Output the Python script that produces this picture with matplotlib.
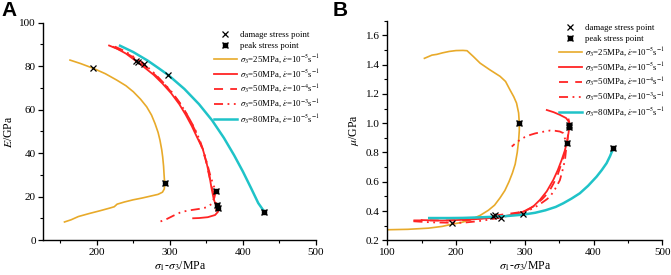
import matplotlib
matplotlib.use("Agg")
import matplotlib.pyplot as plt
from matplotlib.legend_handler import HandlerTuple
from matplotlib.ticker import MultipleLocator

plt.rcParams['font.family'] = ['Liberation Serif', 'DejaVu Serif']
plt.rcParams['mathtext.fontset'] = 'stix'

# ---------------- data (panel A: E vs deviatoric stress) ----------------
a_y25_x = [163.5, 178, 195.4, 212, 227.4, 240, 250.2, 260, 268.4, 275, 279.8, 284, 286.6, 289, 290.3, 291.5, 292.1, 293,
           292.5, 290, 284, 275, 262, 250, 238, 228, 224, 218, 205, 190, 175, 165, 156]
a_y25_y = [82.8, 81.2, 79.0, 76.5, 73.6, 71.0, 68.2, 64.8, 61.3, 57.5, 53.6, 49.5, 45.9, 41.5, 38.2, 34.0, 30.6, 26.1,
           23.5, 22.0, 21.0, 20.3, 19.3, 18.5, 17.5, 16.5, 15.3, 14.7, 13.5, 12.2, 10.8, 9.3, 8.3]

a_r5_x = [217, 228, 240, 254, 265, 278, 290, 302, 313, 322, 330, 337, 345, 350, 354, 357, 360, 363, 366,
          366, 362, 352, 340, 332]
a_r5_y = [89.5, 88.0, 85.8, 82.3, 79.5, 76.0, 72.0, 67.5, 62.5, 57.5, 52.5, 47.5, 42.0, 36.0, 30.0, 24.0, 19.0, 16.0, 14.5,
          13.0, 11.5, 10.5, 10.1, 10.0]

a_r4_x = [222, 235, 248, 257, 270, 283, 296, 308, 319, 328, 336, 343, 349, 353, 357, 361, 364, 364, 360]
a_r4_y = [89.0, 87.0, 84.5, 82.3, 79.0, 75.0, 70.5, 65.5, 60.5, 55.0, 49.5, 43.5, 37.0, 31.0, 25.0, 20.0, 16.0, 14.0, 13.0]

a_r3_x = [225, 238, 252, 265, 278, 291, 303, 314, 324, 333, 341, 347, 352, 356, 360, 363,
          361, 357, 350, 340, 330, 320, 314, 305, 295, 283]
a_r3_y = [89.0, 87.0, 84.0, 81.0, 77.0, 72.5, 68.0, 63.0, 57.5, 52.0, 46.0, 40.0, 34.0, 29.0, 25.0, 22.5,
          19.5, 16.5, 15.0, 14.3, 13.8, 13.2, 12.6, 11.2, 9.5, 8.0]

a_c80_x = [232, 250, 270, 285, 298, 320, 340, 358, 374, 388, 400, 411, 421, 429.5]
a_c80_y = [89.4, 86.5, 82.5, 79.0, 75.9, 69.5, 62.5, 55.0, 47.0, 39.0, 31.5, 24.0, 17.0, 12.9]

a_dmg_x = [195.5, 254, 256.5, 265, 298]
a_dmg_y = [79.0, 82.3, 82.0, 81.0, 75.9]
a_pk_x = [293, 366, 364, 363, 429.5]
a_pk_y = [26.1, 14.5, 16.0, 22.5, 12.9]

# ---------------- data (panel B: mu vs deviatoric stress) ----------------
b_y25_x = [100, 130, 160, 180, 194, 208, 220, 235, 247, 256, 264, 271, 277, 282, 286, 289, 291, 292, 292,
           291, 288, 284, 278.4, 272, 264, 249, 235, 225, 216, 210, 200, 190, 180, 172, 165, 160, 154]
b_y25_y = [0.272, 0.275, 0.283, 0.295, 0.31, 0.322, 0.339, 0.37, 0.405, 0.44, 0.49, 0.54, 0.60, 0.66, 0.72, 0.80, 0.88, 0.95, 1.0,
           1.07, 1.137, 1.18, 1.228, 1.285, 1.32, 1.365, 1.41, 1.456, 1.495, 1.497, 1.496, 1.49, 1.48, 1.47, 1.465, 1.455, 1.443]

b_r5_x = [150, 180, 205, 230, 250, 264, 280, 298, 312, 322, 332, 341.5, 348, 353.7, 358, 361, 363.5, 365,
          364, 360, 351, 342, 332]
b_r5_y = [0.338, 0.335, 0.339, 0.345, 0.352, 0.36, 0.373, 0.396, 0.43, 0.476, 0.535, 0.613, 0.68, 0.75, 0.81, 0.864, 0.93, 0.985,
          1.01, 1.035, 1.057, 1.075, 1.09]

b_r4_x = [138, 160, 180, 200, 220, 240, 257, 275, 290, 305, 315, 325, 335, 342, 348, 353, 357, 360, 362, 364, 365, 363]
b_r4_y = [0.336, 0.336, 0.335, 0.336, 0.34, 0.352, 0.37, 0.38, 0.39, 0.41, 0.44, 0.48, 0.53, 0.59, 0.65, 0.72, 0.78, 0.83, 0.88, 0.975, 1.0, 1.04]

b_r3_x = [138, 155, 170, 190, 210, 225, 240, 252, 265, 278, 290, 300, 308, 318, 326, 332, 337, 344, 351, 355, 358.5, 361,
          358, 356, 351, 344, 337, 325, 315, 308, 300, 293, 287, 281]
b_r3_y = [0.33, 0.325, 0.322, 0.32, 0.32, 0.327, 0.335, 0.345, 0.355, 0.37, 0.385, 0.398, 0.41, 0.435, 0.46, 0.48, 0.5, 0.55, 0.61, 0.68, 0.75, 0.865,
          0.9, 0.932, 0.943, 0.948, 0.95, 0.94, 0.93, 0.92, 0.905, 0.886, 0.865, 0.84]

b_c80_x = [161, 190, 210, 230, 250, 275, 297, 315, 330, 345, 356, 368, 380, 392, 404.5, 412, 419, 424, 428.7]
b_c80_y = [0.352, 0.352, 0.353, 0.356, 0.36, 0.366, 0.375, 0.388, 0.405, 0.428, 0.453, 0.485, 0.521, 0.572, 0.635, 0.68, 0.727, 0.775, 0.829]

b_dmg_x = [194, 254, 257, 265, 297]
b_dmg_y = [0.318, 0.365, 0.37, 0.355, 0.38]
b_pk_x = [292, 365, 364, 361, 429]
b_pk_y = [1.0, 0.985, 0.975, 0.865, 0.833]

labels = [r'$\sigma_3$=25MPa, $\dot{\varepsilon}$=10$^{-5}$s$^{-1}$',
          r'$\sigma_3$=50MPa, $\dot{\varepsilon}$=10$^{-5}$s$^{-1}$',
          r'$\sigma_3$=50MPa, $\dot{\varepsilon}$=10$^{-4}$s$^{-1}$',
          r'$\sigma_3$=50MPa, $\dot{\varepsilon}$=10$^{-3}$s$^{-1}$',
          r'$\sigma_3$=80MPa, $\dot{\varepsilon}$=10$^{-5}$s$^{-1}$']

YEL = '#E8AA2A'
RED = '#FF2424'
CYN = '#1FC3C8'
styles = [dict(color=YEL, lw=1.2, ls='-'),
          dict(color=RED, lw=1.3, ls='-'),
          dict(color=RED, lw=1.3, ls=(0, (5, 4))),
          dict(color=RED, lw=1.3, ls=(0, (5, 2.5, 1, 2.5, 1, 2.5))),
          dict(color=CYN, lw=1.8, ls='-')]

fig = plt.figure(figsize=(6.71, 2.75), dpi=100)
W, H = 671, 275


def make_axes(l, r, b, t):
    return fig.add_axes([l / W, 1 - b / H, (r - l) / W, (b - t) / H])


def style_axes(ax):
    for s in ['top', 'right']:
        ax.spines[s].set_visible(False)
    for s in ['left', 'bottom']:
        ax.spines[s].set_linewidth(1.0)
    ax.tick_params(which='major', direction='out', length=3.5, width=0.9, labelsize=8, pad=2)
    ax.tick_params(which='minor', direction='out', length=2, width=0.8)


def draw(ax, series, dmg, pk):
    for (xs, ys), st, lab in zip(series, styles, labels):
        ax.plot(xs, ys, label=lab, zorder=2, **st)
    hd, = ax.plot(dmg[0], dmg[1], ls='none', marker='x', color='black', ms=4, mew=0.9, zorder=5)
    p1, = ax.plot(pk[0], pk[1], ls='none', marker='s', color='black', ms=3, zorder=5)
    p2, = ax.plot(pk[0], pk[1], ls='none', marker='x', color='black', ms=5, mew=1.0, zorder=6)
    handles = [hd, (p1, p2)] + ax.get_lines()[:5]
    labs = ['damage stress point', 'peak stress point'] + labels
    return handles, labs


LEG = dict(handler_map={tuple: HandlerTuple(ndivide=1)}, loc='upper left', frameon=False,
           fontsize=6.3, handlelength=2.6, handletextpad=0.35, labelspacing=0.3,
           borderaxespad=0, borderpad=0, numpoints=1)

# Panel A
axA = make_axes(43.3, 316, 240, 22.7)
style_axes(axA)
hA, lA = draw(axA, [(a_y25_x, a_y25_y), (a_r5_x, a_r5_y), (a_r4_x, a_r4_y), (a_r3_x, a_r3_y), (a_c80_x, a_c80_y)],
              (a_dmg_x, a_dmg_y), (a_pk_x, a_pk_y))
axA.set_xlim(127, 500)
axA.set_ylim(0, 100)
axA.xaxis.set_major_locator(MultipleLocator(100))
axA.xaxis.set_minor_locator(MultipleLocator(50))
axA.yaxis.set_major_locator(MultipleLocator(20))
axA.yaxis.set_minor_locator(MultipleLocator(10))
axA.set_xlabel(r'$\sigma_1$-$\sigma_3$/MPa', fontsize=8.5, labelpad=2)
axA.set_ylabel(r'$E$/GPa', fontsize=8.5, labelpad=3)
axA.legend(hA, lA, bbox_to_anchor=((214 - 43.3) / (316 - 43.3), 1.0 - (31 - 22.7) / (240 - 22.7)), **LEG)

# Panel B
axB = make_axes(387.3, 662.3, 240.3, 20.7)
style_axes(axB)
hB, lB = draw(axB, [(b_y25_x, b_y25_y), (b_r5_x, b_r5_y), (b_r4_x, b_r4_y), (b_r3_x, b_r3_y), (b_c80_x, b_c80_y)],
              (b_dmg_x, b_dmg_y), (b_pk_x, b_pk_y))
axB.set_xlim(100, 500)
axB.set_ylim(0.2, 1.7)
axB.xaxis.set_major_locator(MultipleLocator(100))
axB.xaxis.set_minor_locator(MultipleLocator(50))
axB.set_yticks([0.2, 0.4, 0.6, 0.8, 1.0, 1.2, 1.4, 1.6])
axB.set_yticklabels(['0.2', '0.4', '0.6', '0.8', '1.0', '1.2', '1.4', '1.6'])
axB.yaxis.set_minor_locator(MultipleLocator(0.1))
axB.set_xlabel(r'$\sigma_1$-$\sigma_3$/MPa', fontsize=8.5, labelpad=2)
axB.set_ylabel(r'$\mu$/GPa', fontsize=8.5, labelpad=3)
axB.legend(hB, lB, bbox_to_anchor=((559 - 387.3) / (662.3 - 387.3), 1.0 - (24 - 20.7) / (240.3 - 20.7)), **LEG)

fig.text(1 / W, 1 - 1 / H, 'A', fontsize=15, fontweight='bold', family='Liberation Sans', va='top', ha='left')
fig.text(333 / W, 1 - 1 / H, 'B', fontsize=15, fontweight='bold', family='Liberation Sans', va='top', ha='left')

fig.savefig('out.png', dpi=100)
